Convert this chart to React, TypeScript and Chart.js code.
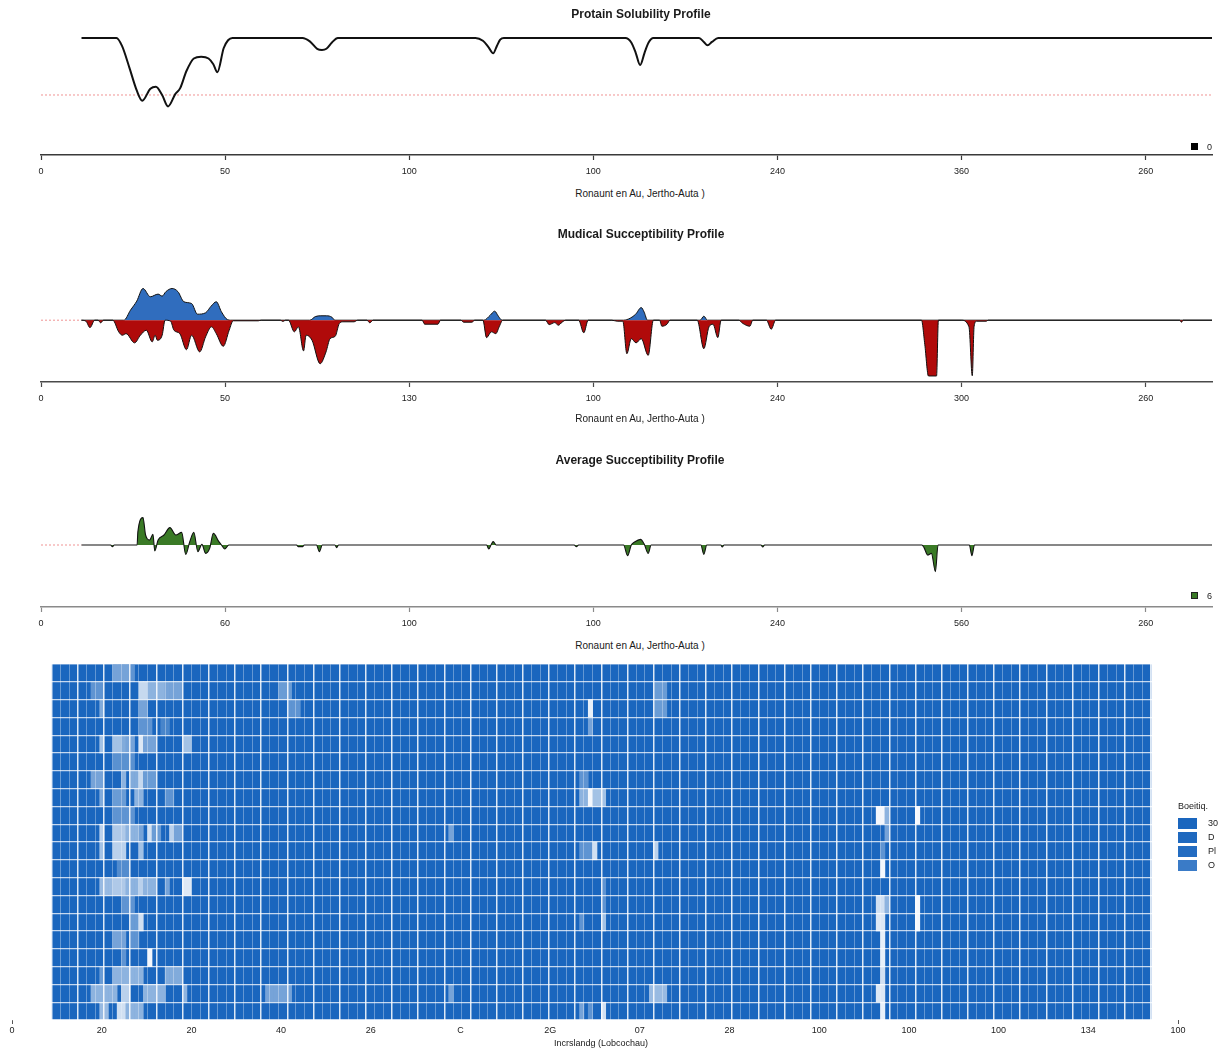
import React, { useEffect, useRef } from "react";
import { Chart, registerables } from "chart.js";

Chart.register(...registerables);

// ---------------- shared profile axis ----------------
const RES_MAX = 318;
const PROFILE_TICK_VALUES = [0, 50, 100, 150, 200, 250, 300];
const SOL_TICK_LABELS = ["0", "50", "100", "100", "240", "360", "260"];
const MUT_TICK_LABELS = ["0", "50", "130", "100", "240", "300", "260"];
const AVG_TICK_LABELS = ["0", "60", "100", "100", "240", "560", "260"];

const SOL_TITLE = "Protain Solubility Profile";
const MUT_TITLE = "Mudical Succeptibility Profile";
const AVG_TITLE = "Average Succeptibility Profile";
const PROFILE_X_TITLE = "Ronaunt en Au, Jertho-Auta )";

// ---------------- solubility profile ----------------
const SOL_RES = [11, 20.5, 22, 24, 26, 27.5, 29.7, 31.2, 32.9, 34.5, 36.5, 37.8, 39.5, 41.5, 43.5, 45.5, 46.8, 47.9, 49.6, 50.8, 52, 71, 73, 75, 76.3, 77.5, 79, 80.6, 118, 120, 121.5, 122.8, 123.8, 124.7, 125.7, 158.7, 160.3, 161.5, 162.7, 163.9, 165, 166.3, 178.7, 180, 181, 182.2, 183.9, 318];
const SOL_VAL = [1, 1, 0.93, 0.74, 0.54, 0.45, 0.555, 0.573, 0.5, 0.4, 0.51, 0.56, 0.71, 0.82, 0.835, 0.82, 0.77, 0.7, 0.91, 0.98, 1, 1, 0.97, 0.905, 0.895, 0.905, 0.96, 1, 1, 0.975, 0.92, 0.865, 0.93, 0.985, 1, 1, 0.96, 0.87, 0.763, 0.87, 0.96, 1, 1, 0.965, 0.936, 0.965, 1, 1];
const SOL_THRESHOLD = 0.5;

// ---------------- mutational susceptibility ----------------
const MUT_POS_RES = [11, 22.5, 24.3, 26, 27.7, 29.7, 31.8, 32.9, 33.9, 35.6, 37.2, 38.8, 40.9, 42.5, 44.7, 46.2, 47.6, 49, 50.6, 51.5, 73, 74.5, 76, 77.5, 79, 79.8, 120.3, 122, 123.2, 124.2, 125.2, 158.2, 160, 161.5, 163, 163.8, 164.7, 179, 180, 181, 318];
const MUT_POS_VAL = [0, 0, 0.5, 0.95, 1.58, 1.17, 1.3, 1.2, 1.42, 1.58, 1.42, 0.92, 0.83, 0.3, 0.37, 0.7, 0.92, 0.42, 0.03, 0, 0, 0.18, 0.22, 0.22, 0.15, 0, 0, 0.25, 0.45, 0.2, 0, 0, 0.1, 0.3, 0.63, 0.4, 0, 0, 0.2, 0, 0];
const MUT_NEG_RES = [11, 12.2, 13.3, 14.6, 15.5, 16.2, 17, 19.5, 21.1, 22.1, 23.1, 25.4, 27, 28.6, 30.2, 31, 31.6, 32.9, 33.7, 35.2, 36.1, 37.7, 39.5, 40.9, 43.1, 44.7, 46.3, 47.6, 49.5, 51.1, 52.2, 59, 59.8, 65, 65.7, 66.4, 67.2, 68.8, 69.9, 71.3, 72, 73.6, 75.8, 77.4, 78.5, 79.9, 81, 82, 85, 86, 88.5, 89.3, 90.2, 103.5, 104.2, 107.8, 108.5, 114, 114.8, 117, 117.8, 120, 121, 122.3, 123.5, 124.5, 125.4, 137, 138, 139.5, 140.5, 141.5, 142.5, 146, 147.4, 148.6, 155, 156.5, 158, 159.1, 160.3, 161.6, 163, 164.9, 166.3, 168, 168.6, 170, 170.8, 178.2, 180, 181.4, 182.5, 183.8, 184.7, 189.5, 190.5, 192.5, 193.3, 197, 198.3, 199.5, 239.1, 240, 241, 243.2, 243.7, 249.9, 252, 252.9, 253.4, 254.1, 256.7, 257.2, 309.2, 309.7, 310.2, 318];
const MUT_NEG_VAL = [0, -0.05, -0.37, 0, 0, -0.13, 0, 0, -0.58, -0.75, -0.67, -1.13, -0.75, -0.5, -1.08, -0.75, -1.0, -0.75, 0, -0.05, -0.5, -0.67, -1.47, -0.75, -1.58, -0.83, -0.33, -0.67, -1.3, -0.5, -0.03, -0.03, 0, 0, -0.06, 0, 0, -0.58, -0.33, -1.53, -0.75, -1.0, -2.17, -1.58, -0.92, -0.8, -0.17, -0.08, -0.08, 0, 0, -0.13, 0, 0, -0.2, -0.2, 0, 0, -0.1, -0.1, 0, 0, -0.87, -0.58, -0.67, -0.3, 0, 0, -0.22, -0.12, -0.25, -0.1, 0, 0, -0.63, 0, 0, -0.05, -0.05, -1.67, -0.92, -1.13, -0.92, -1.75, 0, 0, -0.3, -0.2, 0, 0, -1.42, -0.33, -0.2, -0.87, 0, 0, -0.15, -0.3, 0, 0, -0.45, 0, 0, -1.2, -2.78, -2.78, 0, 0, -0.33, -2.77, -0.3, -0.05, -0.05, 0, 0, -0.1, 0, 0];

// ---------------- average susceptibility ----------------
const AVG_RES = [11, 18.9, 19.4, 19.9, 26.1, 26.3, 27.7, 28.4, 29.5, 30.4, 30.9, 31.8, 33.4, 35, 36.6, 38.2, 39.3, 40.4, 41.5, 42.6, 43.7, 44.7, 45.8, 46.8, 48.3, 49, 49.9, 51, 69.4, 69.8, 71.1, 71.5, 74.8, 75.6, 76.4, 79.8, 80.3, 80.8, 121, 121.6, 122.2, 122.8, 123.6, 144.8, 145.4, 146, 158.2, 159.3, 160.3, 161.2, 162.8, 163.8, 164.9, 165.7, 179.2, 180, 180.8, 184.6, 185, 185.5, 195.5, 196, 196.5, 239.2, 239.8, 240.8, 241.8, 242.9, 243.6, 252.1, 252.8, 253.5, 318];
const AVG_VAL = [0, 0, -0.08, 0, 0, 0.65, 1.37, 0.5, 0.25, 0.53, -0.3, 0.25, 0.5, 0.87, 0.5, 0.63, -0.47, 0.17, 0.63, -0.33, 0.03, -0.42, -0.17, 0.58, 0.17, 0, -0.2, 0, 0, -0.08, -0.08, 0, 0, -0.33, 0, 0, -0.13, 0, 0, -0.2, 0, 0.17, 0, 0, -0.08, 0, 0, -0.53, 0, 0.15, 0.28, 0.05, -0.42, 0, 0, -0.47, 0, 0, -0.1, 0, 0, -0.1, 0, 0, -0.13, -0.5, -0.42, -1.33, 0, 0, -0.53, 0, 0];
const ZERO_LINE = 0;
const DATA_START = 11;

// ---------------- heatmap ----------------
const HM_ROWS = 20;
const HM_COLS = 126;
const HM_TICKS = ["0", "20", "20", "40", "26", "C", "2G", "07", "28", "100", "100", "100", "134", "100"];
const HM_X_TITLE = "Incrslandg (Lobcochau)";
const HM_LEGEND_TITLE = "Boeitiq.";
const HM_LEGEND_LABELS = ["30", "D", "Pl", "O"];
const HM_LEGEND_LEVELS = [0, 0.02, 0.04, 0.14];
// highlighted cells: row, half-column span [from, to), lightness level
const HL_ROW = [0, 0, 1, 1, 1, 1, 1, 1, 2, 2, 2, 2, 2, 3, 3, 3, 4, 4, 4, 4, 4, 4, 4, 5, 6, 6, 6, 6, 6, 6, 7, 7, 7, 7, 7, 7, 7, 8, 8, 8, 8, 9, 9, 9, 9, 9, 9, 9, 9, 9, 9, 10, 10, 10, 10, 10, 10, 10, 11, 11, 12, 12, 12, 12, 12, 12, 12, 12, 13, 13, 13, 13, 13, 14, 14, 14, 14, 14, 14, 15, 15, 15, 16, 16, 16, 17, 17, 17, 17, 18, 18, 18, 18, 18, 18, 18, 18, 19, 19, 19, 19, 19, 19, 19];
const HL_FROM = [14, 18, 9, 20, 22, 26, 52, 138, 11, 20, 54, 123, 138, 20, 25, 123, 11, 14, 16, 17, 20, 21, 30, 14, 9, 16, 18, 20, 21, 121, 11, 14, 19, 26, 121, 123, 124, 14, 189, 191, 198, 11, 14, 17, 20, 22, 23, 27, 28, 91, 191, 11, 14, 20, 121, 124, 138, 190, 15, 190, 11, 14, 17, 20, 21, 26, 30, 126, 16, 126, 189, 191, 198, 18, 20, 121, 126, 189, 198, 14, 18, 190, 16, 22, 190, 11, 14, 26, 190, 9, 16, 21, 30, 49, 91, 137, 189, 11, 15, 17, 121, 123, 126, 190];
const HL_TO = [18, 19, 12, 22, 26, 30, 55, 141, 12, 22, 57, 124, 141, 23, 27, 124, 12, 16, 17, 19, 21, 24, 32, 19, 12, 17, 20, 21, 24, 123, 12, 17, 21, 28, 123, 124, 127, 19, 191, 192, 199, 12, 17, 20, 21, 23, 25, 28, 30, 92, 192, 12, 17, 21, 124, 125, 139, 191, 18, 191, 14, 17, 20, 21, 24, 27, 32, 127, 19, 127, 191, 192, 199, 20, 21, 122, 127, 191, 199, 17, 20, 191, 17, 23, 191, 12, 21, 30, 191, 15, 18, 26, 31, 55, 92, 141, 191, 13, 17, 21, 122, 124, 127, 191];
const HL_LEVEL = [0.4, 0.3, 0.3, 0.75, 0.5, 0.4, 0.35, 0.35, 0.45, 0.4, 0.3, 0.9, 0.35, 0.3, 0.2, 0.4, 0.6, 0.6, 0.45, 0.4, 0.85, 0.4, 0.6, 0.28, 0.4, 0.5, 0.45, 0.75, 0.35, 0.3, 0.45, 0.35, 0.5, 0.3, 0.5, 0.95, 0.6, 0.3, 0.95, 0.5, 0.95, 0.7, 0.65, 0.5, 0.4, 0.8, 0.35, 0.7, 0.4, 0.4, 0.4, 0.6, 0.7, 0.6, 0.3, 0.8, 0.7, 0.3, 0.25, 0.95, 0.55, 0.65, 0.5, 0.7, 0.5, 0.4, 0.85, 0.3, 0.3, 0.3, 0.8, 0.5, 0.95, 0.35, 0.8, 0.3, 0.6, 0.85, 0.95, 0.4, 0.3, 0.9, 0.3, 0.95, 0.9, 0.35, 0.5, 0.45, 0.8, 0.5, 0.7, 0.5, 0.5, 0.4, 0.4, 0.55, 0.85, 0.55, 0.8, 0.5, 0.4, 0.3, 0.8, 0.9];

// ---------------- styling ----------------
const SANS = "'Liberation Sans', Arial, Helvetica, sans-serif";
const NARROW = "'Liberation Sans Narrow', 'Liberation Sans', Arial, sans-serif";
const BLUE = "#306dbe";
const RED = "#b00a0a";
const GREEN = "#3a7a26";
const HM_BASE = [26, 102, 190];

const mix = (lvl: number) => {
  const c = HM_BASE.map((v) => Math.round(v + (255 - v) * lvl));
  return `rgb(${c[0]},${c[1]},${c[2]})`;
};
const pts = (xs: number[], ys: number[]) => xs.map((x, i) => ({ x, y: ys[i] }));

function profileConfig(p: {
  padTop: number;
  yMin: number;
  yMax: number;
  labels: string[];
  axisColor: string;
  datasets: any[];
}): any {
  return {
    type: "line",
    data: { datasets: p.datasets },
    options: {
      animation: false,
      responsive: false,
      maintainAspectRatio: false,
      layout: { padding: { left: 41, right: 11, top: p.padTop, bottom: 0 } },
      plugins: { legend: { display: false }, tooltip: { enabled: false } },
      elements: { point: { radius: 0 }, line: { cubicInterpolationMode: "monotone" } },
      scales: {
        x: {
          type: "linear",
          min: 0,
          max: RES_MAX,
          afterBuildTicks: (s: any) => {
            s.ticks = PROFILE_TICK_VALUES.map((v) => ({ value: v }));
          },
          afterFit: (s: any) => {
            s.height = 30;
          },
          grid: { drawOnChartArea: false, drawTicks: true, tickLength: 5, tickColor: p.axisColor, tickWidth: 1.2 },
          border: { display: true, color: p.axisColor, width: 1.6 },
          ticks: {
            autoSkip: false,
            maxRotation: 0,
            padding: 6,
            color: "#222",
            font: { family: NARROW, size: 9 },
            callback: (_v: any, i: number) => p.labels[i],
          },
        },
        y: { display: false, min: p.yMin, max: p.yMax },
      },
    },
  };
}

function heatmapConfig(): any {
  const base = Array.from({ length: HM_COLS }, (_, c) => ({ x: c + 0.5, y: [0, HM_ROWS] }));
  const cells: any[] = [];
  const colors: string[] = [];
  HL_ROW.forEach((r, k) => {
    for (let h = HL_FROM[k]; h < HL_TO[k]; h++) {
      cells.push({ x: h * 0.5 + 0.25, y: [r, r + 1] });
      colors.push(mix(HL_LEVEL[k]));
    }
  });
  const unit = (1151 - 51.7) / HM_COLS;
  const xMin = -(51.7 - 12) / unit;
  const xMax = HM_COLS + (1178 - 1151) / unit;
  const colEdges = Array.from({ length: HM_COLS + 1 }, (_, i) => i);
  const halfEdges = Array.from({ length: HM_COLS * 2 + 1 }, (_, i) => i * 0.5);
  return {
    type: "bar",
    data: {
      datasets: [
        {
          label: "cells",
          data: cells,
          backgroundColor: colors,
          xAxisID: "xh",
          yAxisID: "y",
          barPercentage: 1,
          categoryPercentage: 1,
          grouped: false,
          borderWidth: 0,
          order: 0,
        },
        {
          label: "base",
          data: base,
          backgroundColor: mix(0),
          xAxisID: "xb",
          yAxisID: "y",
          barPercentage: 1,
          categoryPercentage: 1,
          grouped: false,
          borderWidth: 0,
          order: 1,
        },
      ],
    },
    options: {
      animation: false,
      responsive: false,
      maintainAspectRatio: false,
      layout: { padding: { left: 12, right: 45, top: 9, bottom: 0 } },
      plugins: { legend: { display: false }, tooltip: { enabled: false } },
      scales: {
        xb: {
          type: "linear",
          position: "bottom",
          min: xMin,
          max: xMax,
          offset: false,
          afterBuildTicks: (s: any) => {
            s.ticks = colEdges.map((v) => ({ value: v }));
          },
          ticks: { display: false },
          border: { display: false },
          grid: {
            z: 1,
            offset: false,
            drawTicks: false,
            color: (ctx: any) =>
              ctx.tick && ctx.tick.value % 3 === 0 ? "rgba(255,255,255,0.85)" : "rgba(255,255,255,0.32)",
            lineWidth: (ctx: any) => (ctx.tick && ctx.tick.value % 3 === 0 ? 1.5 : 1),
          },
        },
        xh: {
          type: "linear",
          position: "bottom",
          min: xMin,
          max: xMax,
          offset: false,
          afterBuildTicks: (s: any) => {
            s.ticks = halfEdges.map((v) => ({ value: v }));
          },
          ticks: { display: false },
          border: { display: false },
          grid: { display: false, offset: false, drawTicks: false },
        },
        x2: {
          type: "category",
          position: "bottom",
          labels: HM_TICKS,
          offset: false,
          afterFit: (s: any) => {
            s.height = 20;
          },
          border: { display: false },
          grid: {
            offset: false,
            drawOnChartArea: false,
            drawTicks: true,
            tickLength: 4,
            tickColor: (ctx: any) =>
              ctx.index === 0 || ctx.index === HM_TICKS.length - 1 ? "#555" : "rgba(0,0,0,0)",
          },
          ticks: {
            autoSkip: false,
            maxRotation: 0,
            padding: 1,
            color: "#222",
            font: { family: NARROW, size: 9 },
          },
        },
        y: {
          type: "linear",
          min: 0,
          max: HM_ROWS,
          reverse: true,
          ticks: { display: false, stepSize: 1 },
          border: { display: false },
          grid: { z: 1, drawTicks: false, color: "rgba(255,255,255,0.75)", lineWidth: 1.2 },
        },
      },
    },
  };
}

function ChartCanvas({ top, height, make }: { top: number; height: number; make: () => any }) {
  const ref = useRef<HTMLCanvasElement | null>(null);
  useEffect(() => {
    if (!ref.current) return;
    const chart = new Chart(ref.current, make());
    return () => chart.destroy();
  }, []);
  return (
    <canvas
      ref={ref}
      width={1223}
      height={height}
      style={{ position: "absolute", left: 0, top, width: 1223, height, display: "block" }}
    />
  );
}

function Txt({
  cx,
  cy,
  text,
  size,
  bold,
  family = SANS,
  align = "center",
  left,
}: {
  cx?: number;
  cy: number;
  text: string;
  size: number;
  bold?: boolean;
  family?: string;
  align?: "center" | "left";
  left?: number;
}) {
  const w = 400;
  const style: any = {
    position: "absolute",
    top: cy - 8,
    height: 16,
    lineHeight: "16px",
    fontSize: size,
    fontFamily: family,
    fontWeight: bold ? "bold" : "normal",
    color: "#1a1a1a",
    whiteSpace: "nowrap",
  };
  if (align === "center") {
    style.left = (cx as number) - w / 2;
    style.width = w;
    style.textAlign = "center";
  } else {
    style.left = left;
  }
  return <div style={style}>{text}</div>;
}

function Swatch({ left, top, w, h, color, border }: any) {
  return (
    <div
      style={{
        position: "absolute",
        left,
        top,
        width: w,
        height: h,
        background: color,
        boxSizing: "border-box",
        border: border ? `1px solid ${border}` : "none",
      }}
    />
  );
}

export default function App() {
  const dotted = (y: number, x1: number) => ({
    data: pts([0, x1], [y, y]),
    borderColor: "rgba(236,120,120,0.8)",
    borderWidth: 1,
    borderDash: [2, 2],
    fill: false,
  });
  const solDatasets = [
    {
      data: pts(SOL_RES, SOL_VAL),
      borderColor: "#111",
      borderWidth: 2,
      fill: false,
    },
    dotted(SOL_THRESHOLD, RES_MAX),
  ];
  const mutDatasets = [
    {
      data: pts(MUT_NEG_RES, MUT_NEG_VAL),
      borderColor: "#111",
      borderWidth: 1,
      backgroundColor: RED,
      fill: "origin",
    },
    {
      data: pts(MUT_POS_RES, MUT_POS_VAL),
      borderColor: "#111",
      borderWidth: 1,
      backgroundColor: BLUE,
      fill: "origin",
    },
    dotted(ZERO_LINE, DATA_START),
  ];
  const avgDatasets = [
    {
      data: pts(AVG_RES, AVG_VAL),
      borderColor: "#111",
      borderWidth: 1.1,
      backgroundColor: GREEN,
      fill: "origin",
    },
    dotted(ZERO_LINE, DATA_START),
  ];

  return (
    <div
      style={{
        position: "absolute",
        left: 0,
        top: 0,
        width: 1223,
        height: 1062,
        overflow: "hidden",
        background: "#ffffff",
      }}
    >
      <ChartCanvas
        top={0}
        height={185}
        make={() =>
          profileConfig({ padTop: 27, yMin: -0.026, yMax: 1.096, labels: SOL_TICK_LABELS, axisColor: "#3a3a3a", datasets: solDatasets })
        }
      />
      <ChartCanvas
        top={230}
        height={182}
        make={() =>
          profileConfig({ padTop: 30, yMin: -3.08, yMax: 3, labels: MUT_TICK_LABELS, axisColor: "#4a4a4a", datasets: mutDatasets })
        }
      />
      <ChartCanvas
        top={456}
        height={181}
        make={() =>
          profileConfig({ padTop: 29, yMin: -3.1, yMax: 3, labels: AVG_TICK_LABELS, axisColor: "#8a8a8a", datasets: avgDatasets })
        }
      />
      <ChartCanvas top={655} height={385} make={heatmapConfig} />

      <Txt cx={641} cy={14} text={SOL_TITLE} size={12} bold />
      <Txt cx={640} cy={194} text={PROFILE_X_TITLE} size={10} />
      <Txt cx={641} cy={234} text={MUT_TITLE} size={12} bold />
      <Txt cx={640} cy={419} text={PROFILE_X_TITLE} size={10} />
      <Txt cx={640} cy={460} text={AVG_TITLE} size={12} bold />
      <Txt cx={640} cy={646} text={PROFILE_X_TITLE} size={10} />
      <Txt cx={601} cy={1043} text={HM_X_TITLE} size={9} family={NARROW} />

      <Swatch left={1191} top={143} w={7} h={7} color="#000" />
      <Txt align="left" left={1207} cy={147} text="0" size={9} />
      <Swatch left={1191} top={592} w={7} h={7} color={GREEN} border="#222" />
      <Txt align="left" left={1207} cy={596} text="6" size={9} />

      <Txt align="left" left={1178} cy={806} text={HM_LEGEND_TITLE} size={9} />
      {HM_LEGEND_LABELS.map((lab, i) => (
        <React.Fragment key={lab}>
          <Swatch left={1178} top={818 + i * 14} w={19} h={11} color={mix(HM_LEGEND_LEVELS[i])} />
          <Txt align="left" left={1208} cy={823 + i * 14} text={lab} size={9} />
        </React.Fragment>
      ))}
    </div>
  );
}
